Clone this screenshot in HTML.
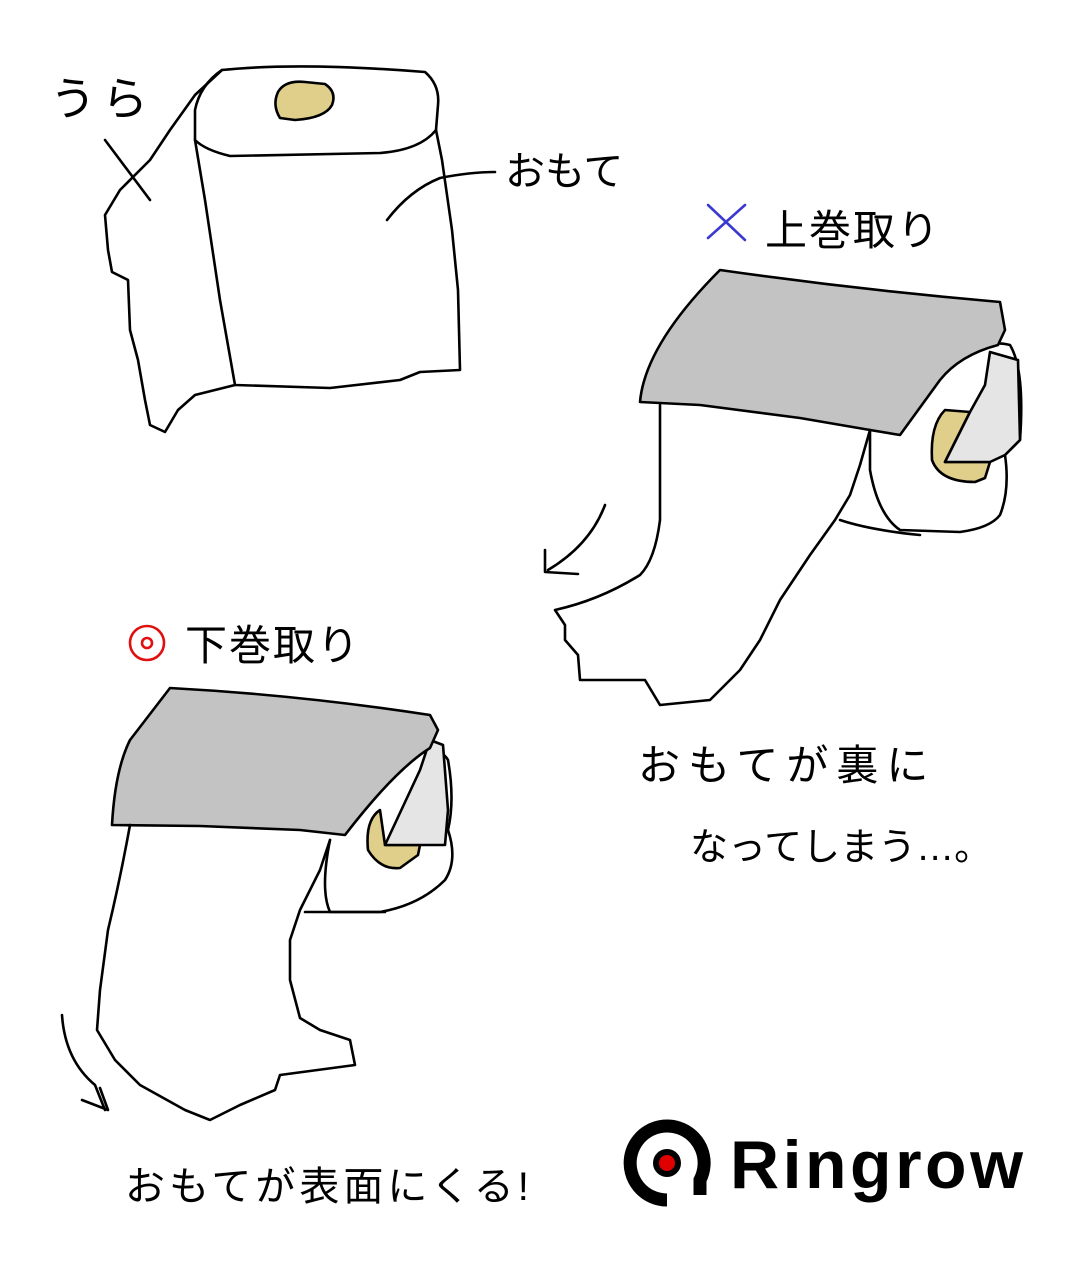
<!DOCTYPE html>
<html><head><meta charset="utf-8"><style>
html,body{margin:0;padding:0;background:#fff;width:1086px;height:1267px;overflow:hidden}
svg{display:block}
.t{font-family:"Liberation Sans","Noto Sans CJK JP",sans-serif;fill:#000}
</style></head><body>
<svg width="1086" height="1267" viewBox="0 0 1086 1267" xmlns="http://www.w3.org/2000/svg">
<g fill="none" stroke="#000" stroke-width="2.6" stroke-linejoin="round" stroke-linecap="round">
<path d="M222,70 L195,95 L170,130 L150,160 L120,190 L105,215 L108,250 L112,272 L128,280 L130,330 L138,360 L145,400 L150,425 L165,432 L178,410 L195,395 L235,385"/>
<path d="M222,70 Q300,62 425,72 Q440,85 438,105 L436,130 Q420,150 380,153 L230,156 Q205,150 195,140 L195,110 Q200,85 222,70"/>
<path d="M195,140 L205,200 L220,300 L235,385 L330,388 L400,380 L420,372 L460,370 L458,290 L452,230 L442,160 L436,130"/>
<path d="M278,92 Q285,80 305,82 L325,84 Q337,92 332,105 Q325,118 295,120 L280,118 Q272,105 278,92Z" fill="#e0cf8a"/>
<path d="M105,140 L150,200"/>
<path d="M387,220 Q410,190 440,178 Q470,172 495,172"/>
<path d="M955,350 Q990,340 1010,345 Q1025,370 1020,440 L1005,455 Q1010,490 1000,515 Q990,528 960,532 L900,530 Q878,515 870,470 L870,430"/>
<path d="M840,520 Q870,530 920,535"/>
<path d="M955,350 Q930,365 910,395"/>
<path d="M945,410 Q930,425 932,460 Q940,482 975,482 L985,478 L990,462 L945,462 L970,412Z" fill="#e0cf8a"/>
<path d="M990,352 L985,385 L970,412 L945,462 L990,462 L1005,455 L1020,440 L1018,360Z" fill="#e5e5e5"/>
<path d="M640,402 Q645,345 720,270 Q860,290 1000,302 L1005,330 L998,345 Q960,355 940,380 L900,435 L870,430 L800,418 L700,405 Z" fill="#c3c3c3"/>
<path d="M660,405 L660,520 Q655,560 640,575 Q600,600 555,610 L565,625 L565,640 L578,655 L580,680 L645,680 L660,705 L710,700 L740,670 L760,640 L780,600 L810,555 L835,520 L850,495 L860,465 L870,430"/>
<path d="M605,505 Q590,545 548,570 M545,550 L545,572 L578,574"/>
<path d="M410,755 Q440,745 448,760 Q455,800 448,830 Q458,860 445,880 Q420,905 380,912 L330,912 Q320,890 330,840"/>
<path d="M305,912 L385,912"/>
<path d="M380,810 Q365,820 368,850 Q380,870 400,868 L418,855 L420,845 L385,845Z" fill="#e0cf8a"/>
<path d="M430,740 L420,770 L385,845 L445,845 L448,810 L443,745Z" fill="#e5e5e5"/>
<path d="M112,825 Q115,770 130,740 L170,688 Q300,695 430,715 L438,730 L430,748 Q395,770 345,835 L300,830 L200,826 Z" fill="#c3c3c3"/>
<path d="M130,825 Q120,880 108,930 L100,990 L97,1030 L115,1060 L140,1085 L185,1110 L210,1120 L240,1105 L275,1090 L280,1075 L355,1065 L350,1040 L320,1030 L300,1018 L290,980 L290,940 L300,910 L320,870 L330,840"/>
<path d="M62,1015 Q65,1060 95,1085 L105,1110 M82,1100 L108,1110 L100,1088"/>
<path d="M708,205 L745,240 M745,205 L708,238" stroke="#3a3ad0"/>
<circle cx="147" cy="643" r="17" stroke="#e01010"/>
<circle cx="147" cy="643" r="5" stroke="#e01010"/>
</g>
<text class="t" x="50" y="115" font-size="46" letter-spacing="6">うら</text>
<text class="t" x="505" y="185" font-size="40">おもて</text>
<text class="t" x="765" y="245" font-size="42" letter-spacing="2">上巻取り</text>
<text class="t" x="185" y="660" font-size="42" letter-spacing="2">下巻取り</text>
<text class="t" x="638" y="780" font-size="42" letter-spacing="8">おもてが裏に</text>
<text class="t" x="690" y="860" font-size="38">なってしまう…。</text>
<text class="t" x="125" y="1200" font-size="40" letter-spacing="4">おもてが表面にくる!</text>
<path d="M667,1200 A37,37 0 1 1 700,1180 L700,1195" fill="none" stroke="#000" stroke-width="13"/>
<circle cx="667" cy="1163" r="11" fill="#e00000" stroke="#000" stroke-width="6"/>
<text x="730" y="1188" font-family="Liberation Sans,sans-serif" font-weight="bold" font-size="68" letter-spacing="2" fill="#000" textLength="295">Ringrow</text>
</svg>
</body></html>
